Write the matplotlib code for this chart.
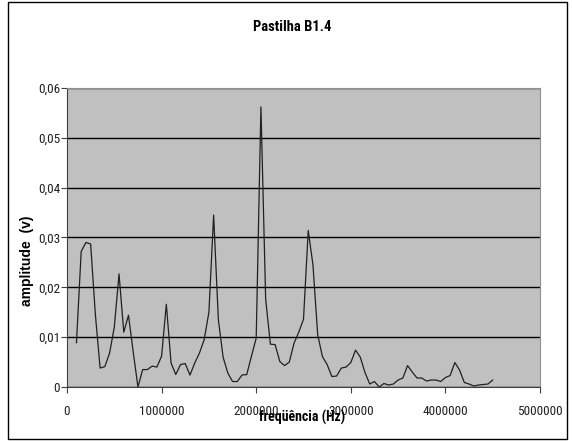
import matplotlib
matplotlib.use("Agg")
import matplotlib.pyplot as plt
from matplotlib.patches import Rectangle
from matplotlib.ticker import FuncFormatter

# frequency (Hz), 50 kHz steps from 100 kHz to 4.5 MHz
freq = [100000 + 50000 * i for i in range(89)]
amp = [
    0.0089, 0.0272, 0.0290, 0.0287, 0.0145, 0.0038, 0.0041, 0.0068, 0.0120, 0.0227,
    0.0110, 0.0144, 0.0070, 0.0000, 0.0035, 0.0035, 0.0042, 0.0040, 0.0062, 0.0166,
    0.0048, 0.0025, 0.0045, 0.0047, 0.0024, 0.0048, 0.0068, 0.0095, 0.0150, 0.0345,
    0.0135, 0.0060, 0.0028, 0.0011, 0.0011, 0.0024, 0.0025, 0.0062, 0.0098, 0.0562,
    0.0176, 0.0086, 0.0085, 0.0051, 0.0043, 0.0050, 0.0088, 0.0110, 0.0136, 0.0314,
    0.0245, 0.0105, 0.0061, 0.0045, 0.0021, 0.0022, 0.0038, 0.0040, 0.0049, 0.0074,
    0.0060, 0.0029, 0.0006, 0.0011, 0.0000, 0.0007, 0.0004, 0.0006, 0.0014, 0.0018,
    0.0043, 0.0030, 0.0018, 0.0018, 0.0012, 0.0014, 0.0014, 0.0011, 0.0019, 0.0023,
    0.0049, 0.0034, 0.0009, 0.0006, 0.0002, 0.0004, 0.0005, 0.0006, 0.0014,
]

x_ticks = [0, 1000000, 2000000, 3000000, 4000000, 5000000]
y_ticks = [0, 0.01, 0.02, 0.03, 0.04, 0.05, 0.06]

narrow = ["Roboto Condensed", "Archivo Narrow", "DejaVu Sans"]
wide = ["Liberation Sans", "DejaVu Sans"]

W, H = 572, 441
fig = plt.figure(figsize=(W / 100, H / 100), dpi=100)
fig.patch.set_facecolor("white")

# outer chart border
fig.patches.append(Rectangle((8 / W, 2 / H), 559 / W, 437 / H, transform=fig.transFigure,
                             fill=False, edgecolor="black", linewidth=1))

ax = fig.add_axes([67 / W, (H - 387) / H, 473 / W, 299 / H])
ax.set_facecolor("#c0c0c0")
ax.plot(freq, amp, color="#202020", linewidth=0.9)

ax.set_xlim(0, 5000000)
ax.set_ylim(0, 0.06)
ax.set_xticks(x_ticks)
ax.set_yticks(y_ticks)
ax.xaxis.set_major_formatter(FuncFormatter(lambda v, p: f"{int(v)}"))
ax.yaxis.set_major_formatter(FuncFormatter(lambda v, p: "0" if v == 0 else f"{v:.2f}".replace(".", ",")))

for lab in ax.get_xticklabels() + ax.get_yticklabels():
    lab.set_fontfamily(narrow)
    lab.set_fontsize(9.5)
    lab.set_color("#202020")
ax.tick_params(axis="x", length=4, width=0.8, color="#404040", pad=9)
ax.tick_params(axis="y", length=4, width=0.8, color="#404040", pad=1)

ax.grid(axis="y", color="black", linewidth=1)
ax.set_axisbelow(True)
for side in ["top", "right"]:
    ax.spines[side].set_color("#909090")
    ax.spines[side].set_linewidth(0.8)
for side in ["left", "bottom"]:
    ax.spines[side].set_color("#404040")
    ax.spines[side].set_linewidth(0.8)

fig.text(292 / W, 1 - 27 / H, "Pastilha B1.4", family=narrow, fontweight="bold",
         fontsize=10.5, ha="center", va="center")
fig.text(302 / W, 1 - 417 / H, "freqüência (Hz)", family=narrow, fontweight="bold",
         fontsize=10, ha="center", va="center")
fig.text(27 / W, 1 - 261 / H, "amplitude  (v)", family=wide, fontweight="bold",
         fontsize=10, ha="center", va="center", rotation=90)

fig.savefig("out.png", dpi=100)
